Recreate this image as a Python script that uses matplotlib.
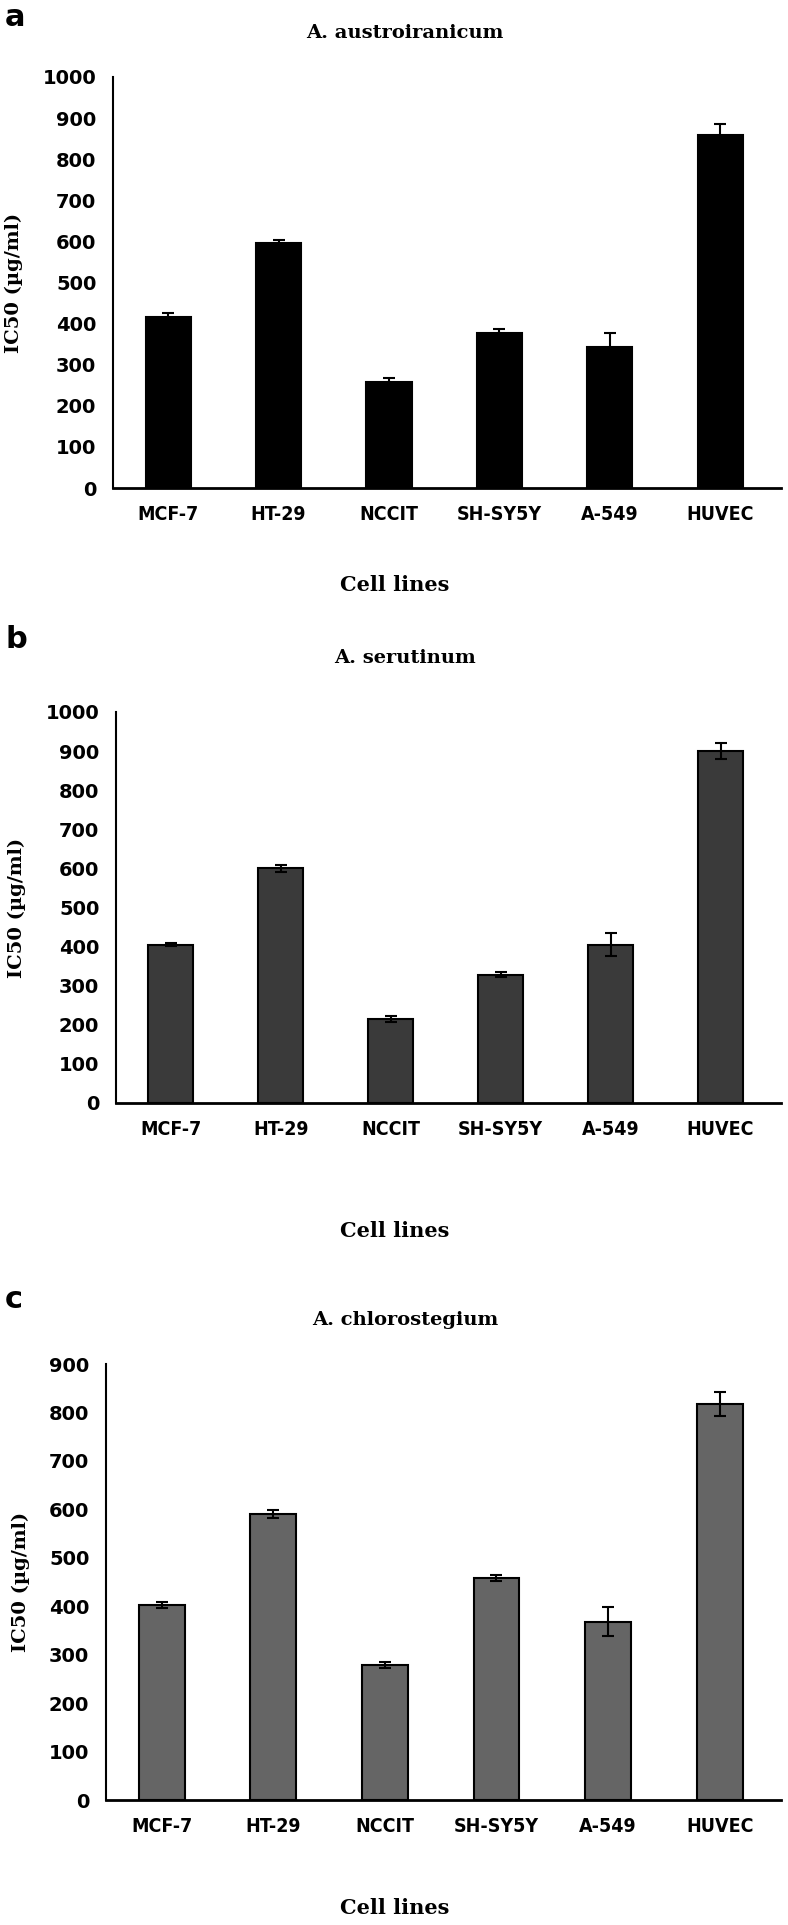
import matplotlib
matplotlib.use("Agg")
import matplotlib.pyplot as plt

cell_lines = ["MCF-7", "HT-29", "NCCIT", "SH-SY5Y", "A-549", "HUVEC"]

austro_ic50 = [415, 595, 258, 378, 342, 858]
austro_err = [10, 8, 10, 8, 35, 28]
serot_ic50 = [405, 600, 215, 328, 405, 900]
serot_err = [4, 8, 8, 6, 30, 20]
chloro_ic50 = [402, 590, 278, 458, 368, 818]
chloro_err = [6, 8, 6, 6, 30, 25]

W, H = 788, 1925
fig = plt.figure(figsize=(W / 100, H / 100), dpi=100)

# (letter, title, values, errors, colour, ymax, axes top/bottom px, title y, letter y, x-label y, axes left)
panels = [
    ("a", "A. austroiranicum", austro_ic50, austro_err, "#000000", 1000, (77, 488), 33, 18, 585, 113),
    ("b", "A. serutinum", serot_ic50, serot_err, "#3a3a3a", 1000, (712, 1103), 658, 640, 1231, 116),
    ("c", "A. chlorostegium", chloro_ic50, chloro_err, "#656565", 900, (1364, 1800), 1320, 1300, 1908, 106),
]

for letter, title, vals, errs, color, ymax, (top, bottom), title_y, letter_y, xlab_y, left in panels:
    right = 781
    ax = fig.add_axes([left / W, 1 - bottom / H, (right - left) / W, (bottom - top) / H])
    ax.bar(range(len(cell_lines)), vals, yerr=errs, width=0.41, color=color,
           edgecolor="black", linewidth=1.5, capsize=4,
           error_kw={"elinewidth": 1.5, "capthick": 1.5})
    ax.set_ylim(0, ymax)
    ax.set_yticks(range(0, ymax + 1, 100))
    ax.set_xlim(-0.5, 5.55)
    ax.set_xticks(range(len(cell_lines)))
    ax.set_xticklabels(cell_lines, fontweight="bold", fontsize=14, fontstretch="condensed")
    for lbl in ax.get_yticklabels():
        lbl.set_fontweight("bold")
        lbl.set_fontsize(14)
    for s in ["top", "right"]:
        ax.spines[s].set_visible(False)
    ax.spines["left"].set_linewidth(1.5)
    ax.spines["bottom"].set_linewidth(2)
    ax.tick_params(axis="both", length=0, pad=12)
    ax.set_ylabel("IC50 (µg/ml)", fontfamily="DejaVu Serif", fontweight="bold", fontsize=14, labelpad=14)
    fig.text(405 / W, 1 - title_y / H, title, ha="center", va="center",
             fontfamily="DejaVu Serif", fontweight="bold", fontsize=14)
    fig.text(5 / W, 1 - letter_y / H, letter, ha="left", va="center",
             fontweight="bold", fontsize=22)
    fig.text(395 / W, 1 - xlab_y / H, "Cell lines", ha="center", va="center",
             fontfamily="DejaVu Serif", fontweight="bold", fontsize=15)

fig.savefig("out.png", dpi=100, facecolor="white")
